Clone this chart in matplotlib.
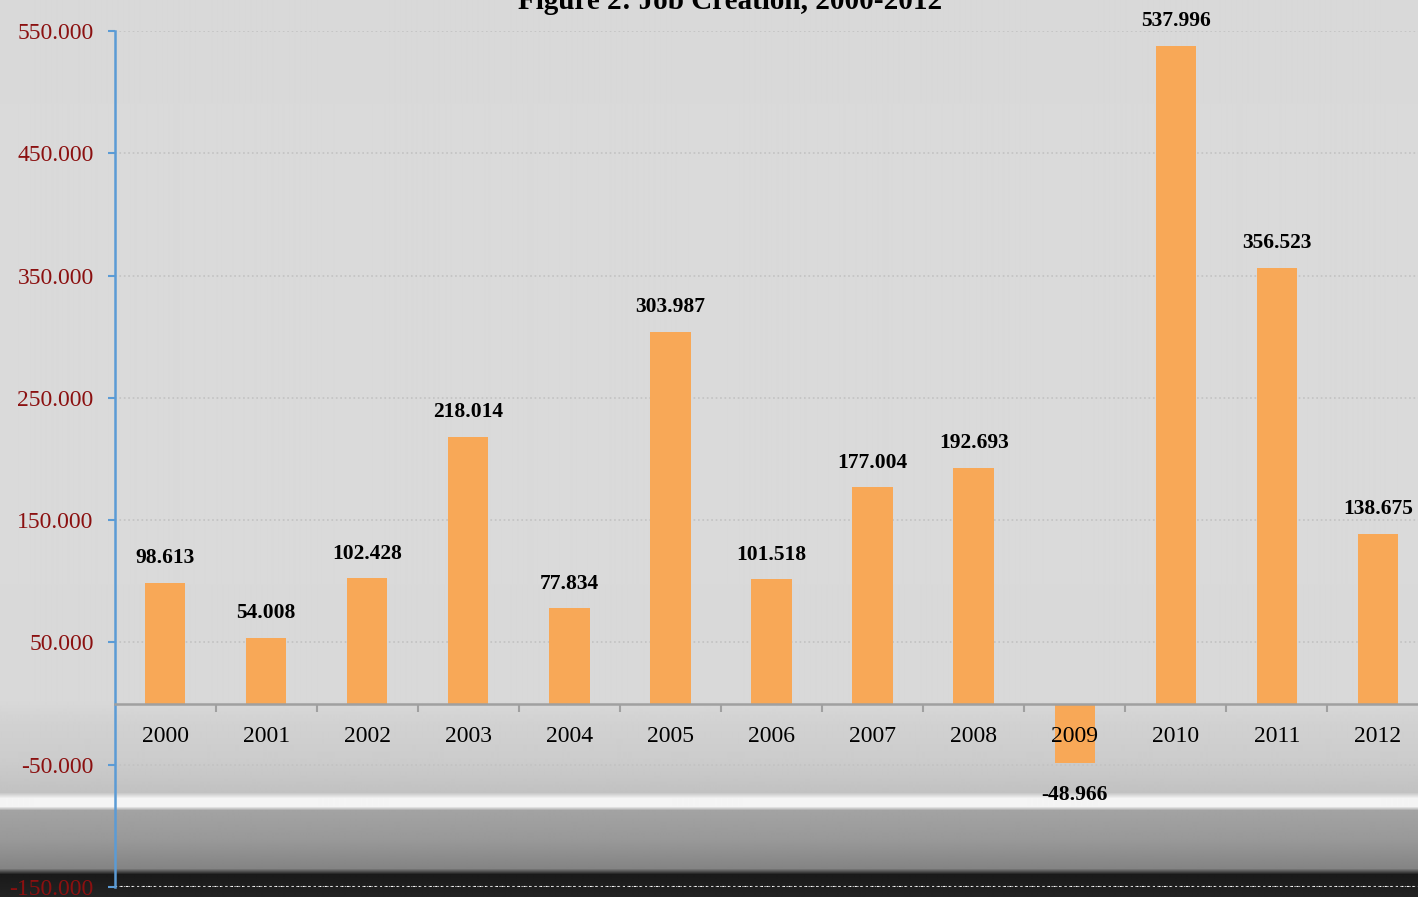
import matplotlib
matplotlib.use("Agg")
import numpy as np
import matplotlib.pyplot as plt
from matplotlib.ticker import FuncFormatter, FixedLocator

years = ["2000", "2001", "2002", "2003", "2004", "2005", "2006",
         "2007", "2008", "2009", "2010", "2011", "2012"]
jobs = [98613, 54008, 102428, 218014, 77834, 303987, 101518,
        177004, 192693, -48966, 537996, 356523, 138675]
y_ticks = [-150000, -50000, 50000, 150000, 250000, 350000, 450000, 550000]
title = "Figure 2: Job Creation, 2000-2012"

plt.rcParams['font.family'] = ['Liberation Serif', 'DejaVu Serif']

W, H = 1418, 897
fig = plt.figure(figsize=(W / 100, H / 100), dpi=100)

# background (photographic gray texture approximation: vertical gradient)
bg = fig.add_axes([0, 0, 1, 1], zorder=-10)
bg.axis('off')
stop_y = [0, 330, 700, 725, 760, 792, 798, 806, 810, 840, 868, 874, 897]
stop_v = [0.85, 0.855, 0.85, 0.82, 0.80, 0.76, 0.96, 0.96, 0.64, 0.60, 0.52, 0.10, 0.14]
col = np.interp(np.arange(H), stop_y, stop_v)[:, None]
bg.imshow(np.repeat(col, 4, axis=1), cmap='gray', vmin=0, vmax=1,
          aspect='auto', extent=[0, W, H, 0], interpolation='bilinear')
bg.set_xlim(0, W)
bg.set_ylim(H, 0)

left = 114.5 / W
right = 1428.5 / W
top = 1 - 31 / H
bottom = 1 - 887 / H
ax = fig.add_axes([left, bottom, right - left, top - bottom])
ax.set_facecolor('none')

x = list(range(len(years)))
ax.bar(x, jobs, width=0.4, color='#F8A857', zorder=3)

ax.set_xlim(-0.5, len(years) - 0.5)
ax.set_ylim(-150000, 550000)

ax.yaxis.set_major_locator(FixedLocator(y_ticks))
ax.yaxis.set_major_formatter(FuncFormatter(lambda v, p: f"{v/1000:.3f}"))
ax.tick_params(axis='y', direction='out', length=5, width=1.5, color='#5B9BD5',
               labelcolor='#8B1010', labelsize=17, pad=10)
ax.grid(axis='y', color='#c2c2c2', linestyle=':', linewidth=1.2, zorder=0)
ax.axhline(-150000, color='white', linestyle=':', linewidth=1.5, zorder=1)

for s in ['top', 'right']:
    ax.spines[s].set_visible(False)
ax.spines['left'].set_color('#5B9BD5')
ax.spines['left'].set_linewidth(1.8)
ax.spines['bottom'].set_position(('data', 0))
ax.spines['bottom'].set_color('#a0a0a0')
ax.spines['bottom'].set_linewidth(1.8)
ax.spines['bottom'].set_zorder(4)

ax.set_xticks(x)
ax.set_xticklabels([])
ax.set_xticks([i - 0.5 for i in range(1, len(years) + 1)], minor=True)
ax.tick_params(axis='x', which='major', length=0)
ax.tick_params(axis='x', which='minor', direction='out', length=6, width=1.5,
               color='#a0a0a0')

for xi, yr in zip(x, years):
    ax.annotate(yr, (xi, 0), xytext=(0, -23.5), textcoords='offset points',
                ha='center', va='center', fontsize=17, color='black', zorder=6)

for xi, v in zip(x, jobs):
    lbl = f"{v/1000:.3f}"
    if v >= 0:
        ax.annotate(lbl, (xi, v), xytext=(0, 10.5), textcoords='offset points',
                    ha='center', va='bottom', fontsize=15.5, fontweight='bold',
                    color='black', zorder=5)
    else:
        ax.annotate(lbl, (xi, v), xytext=(0, -15.5), textcoords='offset points',
                    ha='center', va='top', fontsize=15.5, fontweight='bold',
                    color='black', zorder=5)

fig.text(730 / W, 1 - 9 / H, title, ha='center', va='baseline',
         fontsize=21, fontweight='bold', color='black')

fig.savefig('out.png', dpi=100)
